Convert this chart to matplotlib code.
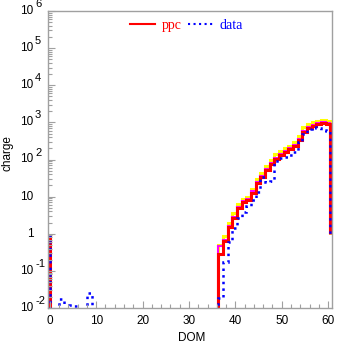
import numpy as np
import matplotlib
matplotlib.use("Agg")
import matplotlib.pyplot as plt
from matplotlib.ticker import MultipleLocator, LogLocator, NullFormatter
from matplotlib.transforms import blended_transform_factory, offset_copy

#data ---------------------------------------------------------------------------
n_dom = 60
dom_hi = list(range(37, 61))
# ppc (red)
ppc_hi = [0.285, 0.64, 1.5, 2.6, 4.8, 7.0, 8.1, 12.8, 22.9, 33, 52, 76,
          105, 132, 158, 186, 224, 335, 562, 692, 794, 891, 944, 902]
# ppc variants (yellow / magenta, drawn under red)
ppc_up = [0.5, 0.87, 1.9, 3.6, 6.3, 8.7, 10, 16.5, 30, 44, 68, 100,
          140, 170, 200, 235, 290, 430, 740, 900, 1000, 1120, 1150, 1100]
ppc_alt = [0.47, 0.69, 1.6, 2.8, 5.2, 7.6, 8.8, 14, 25, 36, 56, 82,
           113, 142, 170, 200, 240, 360, 600, 740, 850, 950, 1000, 960]
# data (blue)
data_hi = [0.019, 0.177, 0.61, 1.40, 2.6, 3.9, 5.6, 8.1, 13.6, 33, 25, 26,
           89, 107, 117, 132, 158, 302, 501, 646, 759, 724, 617, 575]
data_lo_dom = [3, 5, 6, 9]
data_lo = [0.017, 0.012, 0.011, 0.025]

def fill(doms, vals):
    """empty bins sit far below the axis so they get clipped"""
    arr = np.full(n_dom, 1e-4)
    arr[np.array(doms) - 1] = vals
    return arr

edges = np.linspace(0, 60.5, n_dom + 1)
ppc = fill(dom_hi, ppc_hi)
ppc2 = fill(dom_hi, ppc_up)
ppc3 = fill(dom_hi, ppc_alt)
data = fill(dom_hi + data_lo_dom, data_hi + data_lo)

#plot ---------------------------------------------------------------------------
W, H = 337, 344
fig = plt.figure(figsize=(W / 100, H / 100), dpi=100)
ax = fig.add_axes([48 / W, 1 - 308 / H, (332 - 48) / W, (308 - 11) / H])
ax.set_yscale("log")

ax.stairs(ppc2, edges, baseline=1, color="#ffff00", lw=2.2)
ax.stairs(ppc3, edges, baseline=1, color="#ff00ff", lw=1.5)
ax.stairs(ppc, edges, baseline=1, color="#ff0000", lw=2.2, label="ppc")
ax.stairs(data, edges, baseline=1, color="#0000ff", lw=1.8, ls=":", label="data")

ax.set_xlim(-0.4, 60.85)
ax.set_ylim(1e-2, 1e6)

frame = "#a0a0a0"
for s in ax.spines.values():
    s.set_color(frame)
    s.set_linewidth(1.0)

ax.xaxis.set_major_locator(MultipleLocator(10))
ax.xaxis.set_minor_locator(MultipleLocator(2))
ax.yaxis.set_major_locator(LogLocator(base=10, numticks=20))
ax.yaxis.set_minor_locator(LogLocator(base=10, subs=np.arange(2, 10), numticks=20))
ax.yaxis.set_major_formatter(NullFormatter())
ax.yaxis.set_minor_formatter(NullFormatter())
ax.tick_params(which="both", direction="in", color=frame, top=False, right=False)
ax.tick_params(which="major", length=5, width=0.8)
ax.tick_params(which="minor", length=3, width=0.8)
ax.tick_params(axis="x", labelsize=8.5, pad=5)
for lab in ax.get_xticklabels():
    lab.set_family("Liberation Sans")

# ROOT style y labels: 10 with exponent, 1 and 10 plain
trans = blended_transform_factory(fig.transFigure, ax.transData)
exp_trans = offset_copy(trans, fig=fig, x=0, y=7, units="dots")
for e in range(-2, 7):
    if e == 0:
        base, ex = "1", ""
    elif e == 1:
        base, ex = "10", ""
    else:
        base, ex = "10", str(e)
    fig.text(33.5 / W, 10.0 ** e, base, transform=trans, ha="right", va="center",
             fontsize=8.5, family="Liberation Sans")
    if ex:
        fig.text(35 / W, 10.0 ** e, ex, transform=exp_trans, ha="left", va="center",
                 fontsize=8, family="Liberation Sans")

fig.text(7 / W, 1 - 153 / H, "charge", rotation=90, ha="center", va="center",
         fontsize=8.5, family="Liberation Sans")
fig.text(191.7 / W, 1 - 338 / H, "DOM", ha="center", va="center",
         fontsize=8.5, family="Liberation Sans")

leg = ax.legend(loc="upper center", bbox_to_anchor=(0.488, 0.992), ncol=2, frameon=False,
                prop={"family": "Liberation Serif", "size": 10}, labelcolor="linecolor",
                handlelength=1.8, handletextpad=0.5, columnspacing=0.4, borderaxespad=0)
for h in leg.legend_handles:
    h.set_linewidth(1.5)

fig.savefig("out.png", dpi=100)
